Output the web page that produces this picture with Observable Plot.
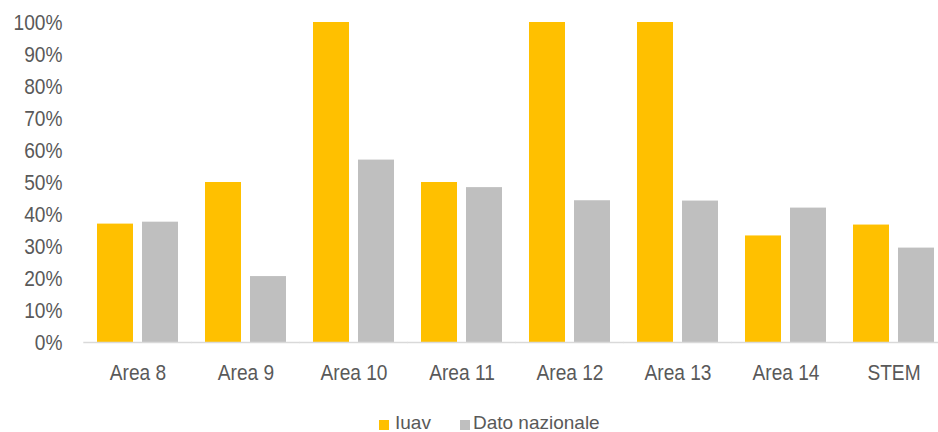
<!DOCTYPE html>
<html>
<head>
<meta charset="utf-8">
<script src="https://cdn.jsdelivr.net/npm/d3@7"></script>
<script src="https://cdn.jsdelivr.net/npm/@observablehq/plot@0.6"></script>
<style>
  html, body { margin: 0; padding: 0; background: #fff; overflow: hidden; }
  body { width: 938px; height: 432px; position: relative; font-family: "Liberation Sans", Arial, sans-serif; }
  #chart svg { overflow: visible; }
  #legend { position: absolute; left: 379px; top: 412px; display: flex; align-items: center; font-size: 19px; color: #595959; line-height: 22px; white-space: nowrap; }
  #legend .sw { width: 10px; height: 10px; display: inline-block; margin-right: 6px; margin-top: 3px; }
  #legend .item { display: flex; align-items: center; margin-right: 29px; }
  #legend .item:last-child .sw { margin-right: 3px; }
</style>
</head>
<body>
<div id="chart"></div>
<div id="legend"></div>
<script>
const categories = ["Area 8", "Area 9", "Area 10", "Area 11", "Area 12", "Area 13", "Area 14", "STEM"];
const seriesNames = ["Iuav", "Dato nazionale"];
const iuav = [0.37, 0.50, 1.00, 0.50, 1.00, 1.00, 0.333, 0.367];
const nazionale = [0.376, 0.206, 0.57, 0.484, 0.443, 0.442, 0.42, 0.295];
const colors = ["#FFC000", "#BFBFBF"];
const yTicks = [0, 0.1, 0.2, 0.3, 0.4, 0.5, 0.6, 0.7, 0.8, 0.9, 1.0];

const data = [];
categories.forEach((c, i) => {
  data.push({category: c, series: seriesNames[0], value: iuav[i]});
  data.push({category: c, series: seriesNames[1], value: nazionale[i]});
});

const hasAxisMarks = typeof Plot.axisY === "function" && typeof Plot.axisFx === "function";

const marks = [
  Plot.barY(data, {fx: "category", x: "series", y: "value", fill: "series"}),
  Plot.ruleY([0], {stroke: "#d9d9d9", strokeWidth: 1.5, insetLeft: -13.7, insetRight: -13.7})
];
if (hasAxisMarks) {
  marks.push(Plot.axisY({ticks: yTicks, tickFormat: d3.format(".0%"), tickSize: 0, tickPadding: 35, label: null, fill: "#595959"}));
  marks.push(Plot.axisFx({anchor: "bottom", tickSize: 0, tickPadding: 22, label: null, fill: "#595959"}));
}

const chart = Plot.plot({
  width: 938,
  height: 395,
  marginLeft: 82,
  marginRight: 0,
  marginTop: 22,
  marginBottom: 53,
  style: {fontFamily: "'Liberation Sans', Arial, sans-serif", fontSize: "22px", color: "#595959", background: "transparent"},
  fx: hasAxisMarks
    ? {domain: categories, range: [82, 948], paddingInner: 0.2517, paddingOuter: 0.12585, axis: null}
    : {domain: categories, range: [82, 948], paddingInner: 0.2517, paddingOuter: 0.12585, axis: "bottom", tickSize: 0, tickPadding: 22, label: null},
  x: {domain: seriesNames, paddingInner: 0.2, paddingOuter: 0, axis: null},
  y: hasAxisMarks
    ? {domain: [0, 1], axis: null}
    : {domain: [0, 1], ticks: yTicks, tickFormat: d3.format(".0%"), tickSize: 0, tickPadding: 35, label: null},
  color: {domain: seriesNames, range: colors},
  marks
});
document.getElementById("chart").appendChild(chart);

// Condense the axis labels horizontally (narrow typeface look), keeping each anchor in place.
chart.querySelectorAll("text").forEach(t => {
  const bb = t.getBBox();
  const anchor = getComputedStyle(t).textAnchor;
  const ax = anchor === "end" ? bb.x + bb.width : anchor === "start" ? bb.x : bb.x + bb.width / 2;
  const prev = t.getAttribute("transform") || "";
  t.setAttribute("transform", `${prev} translate(${ax},0) scale(0.87,1) translate(${-ax},0)`);
});

const legend = document.getElementById("legend");
seriesNames.forEach((s, i) => {
  const item = document.createElement("span");
  item.className = "item";
  const sw = document.createElement("span");
  sw.className = "sw";
  sw.style.background = colors[i];
  item.appendChild(sw);
  item.appendChild(document.createTextNode(s));
  legend.appendChild(item);
});
</script>
</body>
</html>
